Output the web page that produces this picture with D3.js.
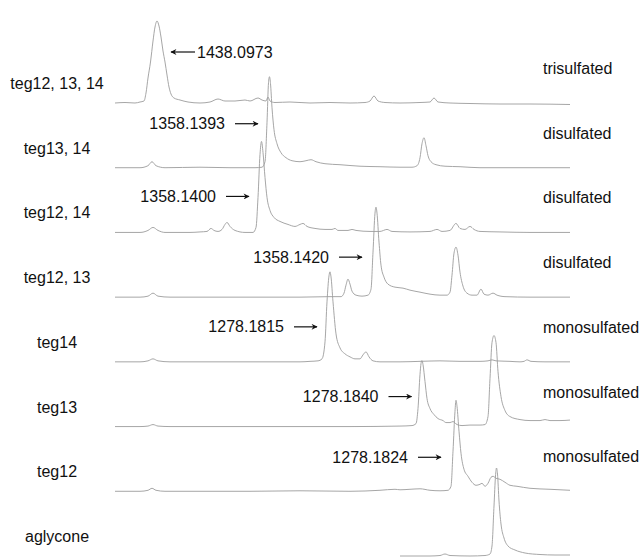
<!DOCTYPE html>
<html>
<head>
<meta charset="utf-8">
<script src="https://cdn.jsdelivr.net/npm/d3@7"></script>
<style>
    body { margin: 0; background: #fff; }
    #chart-area { width: 641px; height: 558px; }
    text { font-family: "Liberation Sans", Arial, Helvetica, sans-serif; font-size: 16px; fill: #111; }
</style>
</head>
<body>
<div id="chart-area"></div>
<script>

// sample names, top to bottom
let rowNames = ["teg12, 13, 14", "teg13, 14", "teg12, 14", "teg12, 13", "teg14", "teg13", "teg12", "aglycone"];
let sulfation = ["trisulfated", "disulfated", "disulfated", "disulfated", "monosulfated", "monosulfated", "monosulfated", ""];

// traces: [retention time (min), relative intensity]
let teg121314 = [[0,0],[1.0,0.5],[2.0,0],[2.5,1],[2.9,2],[3.1,10],[3.3,25],[3.55,41],[3.8,62],[4.0,76],[4.2,82],[4.4,77],
    [4.6,66],[4.8,52],[5.0,41],[5.2,28],[5.4,16],[5.6,9],[5.9,5],[6.5,3],[7.3,1],[8.5,0],[9.5,1],[10.3,4],[11.0,2],[12.0,2],
    [13.0,3],[13.5,2],[14.3,5],[14.7,3],[15.1,2],[15.3,6],[15.5,2],[16.0,0.5],[17.5,1],[19.5,0],[21.5,0.5],[23.5,0],[25.0,0.5],
    [25.5,2],[25.9,7],[26.3,2],[27.0,0.5],[28.5,0],[30.5,0.5],[31.5,1],[31.9,5],[32.3,1],[33.5,0],[35.5,-0.5],[38.5,-1],
    [41.5,-1],[45.5,-1.5]];
let teg1314 = [[0,0],[2.5,0],[3.3,2],[3.7,6],[4.1,2],[5.0,0],[8.5,0.5],[11.5,0],[14.0,0],[14.7,0.5],[15.0,6],[15.2,45],
    [15.35,85],[15.45,91],[15.55,84],[15.7,60],[15.9,38],[16.2,24],[16.6,15],[17.1,10],[17.7,7],[18.5,6],[19.1,7],[19.6,8],
    [20.1,6],[21.0,4],[22.5,3],[24.5,1.5],[26.5,1],[28.5,0.5],[29.7,0.5],[30.2,2],[30.5,10],[30.7,24],[30.9,30],[31.1,22],
    [31.3,12],[31.6,6],[32.1,3],[33.0,1.5],[34.5,1],[36.5,0],[40.5,0],[45.5,0]];
let teg1214 = [[0,0],[2.5,0],[3.3,2],[3.8,5],[4.3,2],[5.0,0],[7.5,0],[8.5,0.5],[9.2,1],[9.6,4],[9.9,2],[10.3,1],[10.7,3],
    [11.0,8],[11.2,10],[11.5,6],[12.0,2],[13.0,0],[13.8,0],[14.1,5],[14.3,35],[14.5,78],[14.65,91],[14.8,80],[15.0,55],
    [15.2,35],[15.5,22],[15.9,15],[16.5,11],[17.3,8],[18.0,6],[18.5,8],[18.8,9],[19.2,6],[20.0,4],[21.0,3],[21.7,3],[22.0,4],
    [22.3,2],[23.3,2],[23.7,3],[24.1,2],[25.5,1],[26.5,1],[27.2,3],[27.7,1],[29.5,0.5],[31.5,1],[32.2,3],[32.7,1],[33.5,2],
    [34.1,9],[34.5,4],[35.0,3],[35.5,6],[35.9,3],[36.5,1],[38.5,0.5],[41.5,0],[45.5,0]];
let teg1213 = [[0,0],[2.5,0],[3.3,1],[3.8,4],[4.3,1],[5.5,0],[13.5,0],[18.5,0],[21.5,0.5],[22.6,0.5],[22.9,4],[23.1,12],
    [23.3,18],[23.5,13],[23.7,6],[24.1,2],[24.7,1],[25.3,2],[25.6,8],[25.8,45],[26.0,84],[26.1,90],[26.2,84],[26.4,55],
    [26.6,32],[26.9,20],[27.3,13],[28.0,10],[28.8,9],[29.5,7],[30.5,5],[31.5,3],[32.5,2],[33.2,2],[33.5,5],[33.7,22],
    [33.9,44],[34.1,50],[34.3,42],[34.5,25],[34.8,11],[35.2,4],[35.7,2],[36.2,2],[36.6,8],[36.9,3],[37.3,2],[37.8,4],
    [38.2,2],[39.0,0.5],[41.5,0],[45.5,0]];
let teg14 = [[0,0],[2.5,0],[3.3,1],[3.8,3],[4.3,1],[5.5,0],[13.5,0],[18.5,0],[19.5,0.5],[20.3,1],[20.7,3],[21.0,20],
    [21.2,60],[21.4,86],[21.5,90],[21.6,85],[21.8,60],[22.1,28],[22.5,14],[23.0,8],[23.5,5],[24.0,3],[24.5,3],[24.8,7],
    [25.1,10],[25.4,5],[25.8,1],[26.5,0],[28.5,0],[30.5,0.5],[32.5,1],[34.5,0.5],[36.5,0.5],[37.3,1],[37.7,2],[38.1,1],
    [39.5,0.5],[40.5,0],[40.9,0.5],[41.2,2],[41.6,0.5],[43.0,0],[45.5,0]];
let teg13 = [[0,0],[2.5,0],[3.3,0.5],[3.8,2],[4.3,0.5],[5.5,0],[13.5,0],[18.5,0],[23.5,0],[28.5,0.5],[29.7,1],[30.1,3],
    [30.3,18],[30.5,52],[30.6,63],[30.7,66],[30.8,62],[31.0,45],[31.2,28],[31.5,18],[31.9,12],[32.3,8],[32.8,6],[33.1,4],
    [33.5,4],[33.8,5],[34.2,2],[34.7,1],[35.5,1.5],[36.5,1.5],[37.0,2],[37.3,10],[37.5,48],[37.7,84],[37.9,91],[38.1,84],
    [38.3,55],[38.6,30],[39.0,16],[39.5,10],[40.5,7],[41.5,6],[42.5,6],[43.0,7],[43.5,6],[44.5,6],[45.5,6.5]];
let teg12 = [[0,0],[2.5,0],[3.3,1],[3.7,3],[4.1,1],[5.0,0],[13.5,0],[18.5,0.5],[23.5,0],[26.5,1],[28.0,2],[28.5,1.5],
    [29.5,2],[30.5,2.5],[31.5,1],[32.5,0.5],[33.3,1],[33.6,5],[33.8,40],[34.0,80],[34.1,91],[34.2,85],[34.4,60],[34.6,38],
    [34.9,22],[35.3,15],[35.7,9],[36.1,6],[36.5,7],[36.7,8],[37.0,5],[37.3,8],[37.6,14],[37.8,15],[38.1,13],[38.5,12],
    [39.0,9],[39.5,6],[40.2,5],[41.5,3],[43.5,2],[45.5,1]];
let aglycone = [[28.5,0],[31.5,0],[32.5,0.5],[33.0,2],[33.5,0.5],[35.5,0],[37.0,0.5],[37.5,2],[37.7,10],[37.9,50],
    [38.05,80],[38.15,88],[38.25,82],[38.4,55],[38.6,32],[38.9,18],[39.3,10],[40.0,6],[41.0,3],[42.5,1.5],[44.0,1],[45.5,1]];

// accurate masses pointing at the main peak of each trace
let massLabels = ["1438.0973", "1358.1393", "1358.1400", "1358.1420", "1278.1815", "1278.1840", "1278.1824"];
let massRows = [0, 1, 2, 3, 4, 5, 6];
let arrowTips = [5.6, 14.3, 13.4, 24.7, 20.2, 29.65, 32.6];
let arrowLevels = [51, 44, 36, 40, 35, 30, 34];
let arrowLeft = [true, false, false, false, false, false, false];

let traces = [teg121314, teg1314, teg1214, teg1213, teg14, teg13, teg12, aglycone];


class TraceChart {

    constructor(parentElement) {
        this.parentElement = parentElement;
        this.initVis();
    }

    initVis() {
        let vis = this;

        vis.margin = {top: 0, right: 71, bottom: 0, left: 115};
        vis.width = 641 - vis.margin.left - vis.margin.right;
        vis.height = 558 - vis.margin.top - vis.margin.bottom;

        vis.svg = d3.select("#" + vis.parentElement).append("svg")
            .attr("width", 641)
            .attr("height", 558)
            .append("g")
            .attr("transform", `translate(${vis.margin.left}, ${vis.margin.top})`);

        vis.svg.append("defs").append("marker")
            .attr("id", "head")
            .attr("viewBox", "0 0 10 10")
            .attr("refX", 9).attr("refY", 5)
            .attr("markerUnits", "userSpaceOnUse")
            .attr("markerWidth", 7).attr("markerHeight", 6)
            .attr("orient", "auto")
            .append("path")
            .attr("d", "M0,0 L10,5 L0,10 L3,5 Z")
            .attr("fill", "#111");

        // scales
        vis.x = d3.scaleLinear()
            .domain([0, 45.5])
            .range([0, vis.width]);
        vis.row = d3.scalePoint()
            .domain(rowNames)
            .range([103, 556]);
        vis.y = d3.scaleLinear()
            .domain([0, 100])
            .range([0, -100]);

        vis.line = d3.line()
            .x(d => vis.x(d[0]))
            .y(d => vis.y(d[1]))
            .curve(d3.curveMonotoneX);

        vis.updateVis();
    }

    updateVis() {
        let vis = this;

        let rows = vis.svg.selectAll(".row")
            .data(rowNames)
            .enter().append("g")
            .attr("class", "row")
            .attr("transform", d => `translate(0, ${vis.row(d)})`);

        rows.append("path")
            .attr("d", (d, i) => vis.line(traces[i]))
            .attr("fill", "none")
            .attr("stroke", "#9c9c9c")
            .attr("stroke-width", 0.9);

        // sample name on the left
        rows.append("text")
            .attr("x", -58)
            .attr("y", -14)
            .attr("text-anchor", "middle")
            .text(d => d);

        // sulfation state on the right
        rows.append("text")
            .attr("x", vis.width - 27)
            .attr("y", -29)
            .text((d, i) => sulfation[i]);

        // mass annotations
        let notes = vis.svg.selectAll(".note")
            .data(massLabels)
            .enter().append("g")
            .attr("class", "note")
            .attr("transform", (d, i) => `translate(${vis.x(arrowTips[i])}, ${vis.row(rowNames[massRows[i]]) + vis.y(arrowLevels[i])})`);

        notes.append("line")
            .attr("x1", (d, i) => arrowLeft[i] ? 24 : -23)
            .attr("x2", 0)
            .attr("y1", 0)
            .attr("y2", 0)
            .attr("stroke", "#111")
            .attr("stroke-width", 1.2)
            .attr("marker-end", "url(#head)");

        notes.append("text")
            .attr("x", (d, i) => arrowLeft[i] ? 26 : -33)
            .attr("y", 5.5)
            .attr("text-anchor", (d, i) => arrowLeft[i] ? "start" : "end")
            .text(d => d);
    }
}

let traceChart = new TraceChart("chart-area");

</script>
</body>
</html>
